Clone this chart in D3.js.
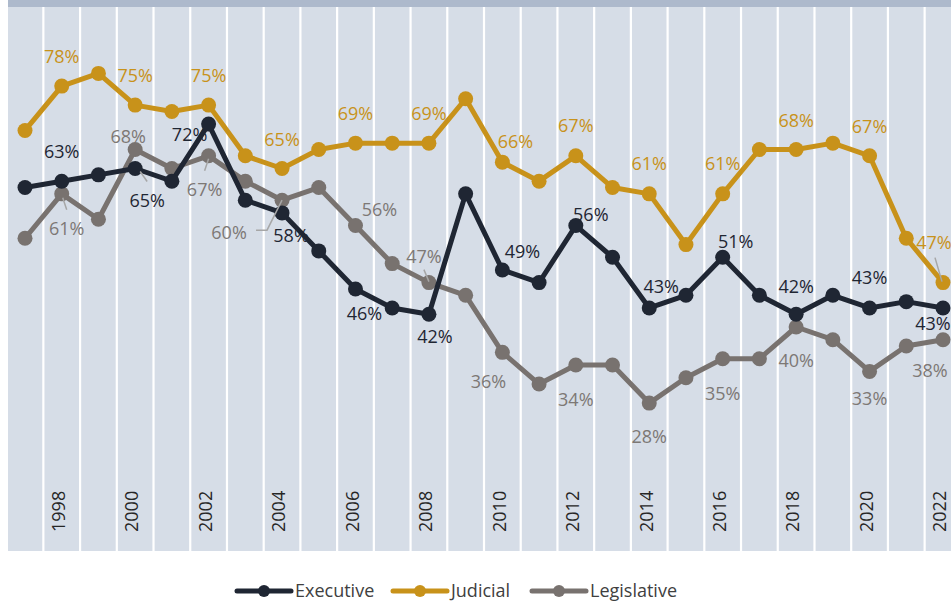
<!DOCTYPE html>
<html>
<head>
<meta charset="utf-8">
<script src="https://cdn.jsdelivr.net/npm/d3@7"></script>
<style>
  html, body { margin: 0; padding: 0; background: #ffffff; }
  svg { display: block; font-family: "Open Sans", "Noto Sans", sans-serif; }
</style>
</head>
<body>
<svg id="chart" width="951" height="601"></svg>
<script>
// ---- data ----
const years = [1997,1998,1999,2000,2001,2002,2003,2004,2005,2006,2007,2008,2009,2010,2011,2012,2013,2014,2015,2016,2017,2018,2019,2020,2021,2022];
const executive   = [62,63,64,65,63,72,60,58,52,46,43,42,61,49,47,56,51,43,45,51,45,42,45,43,44,43];
const judicial    = [71,78,80,75,74,75,67,65,68,69,69,69,76,66,63,67,62,61,53,61,68,68,69,67,54,47];
const legislative = [54,61,57,68,65,67,63,60,62,56,50,47,45,36,31,34,34,28,32,35,35,40,38,33,37,38];
const seriesNames = ["Executive","Judicial","Legislative"];
const tickYears   = [1998,2000,2002,2004,2006,2008,2010,2012,2014,2016,2018,2020,2022];

// ---- styles / layout ----
const colors = { Executive: "#1f2633", Judicial: "#c8921a", Legislative: "#78726f" };
const labelColors = { Executive: "#1f2633", Judicial: "#c8921a", Legislative: "#7d7875" };
// label offsets (dx, dy) of label centre from its point, per labelled year
const labelOffsets = {
  Executive:   {1998:[0,-29],2000:[12,32],2002:[-19,11],2004:[9,23],2006:[9,25],2008:[6,22],2010:[20,-18],2012:[15,-11],2014:[12,-21],2016:[13,-16],2018:[0,-28],2020:[0,-30],2022:[-10,16]},
  Judicial:    {1998:[0,-29],2000:[0,-29],2002:[0,-29],2004:[0,-29],2006:[0,-29],2008:[0,-29],2010:[13,-20],2012:[0,-30],2014:[0,-30],2016:[0,-30],2018:[0,-29],2020:[0,-29],2022:[-9,-40]},
  Legislative: {1998:[5,35],2000:[-7,-13],2002:[-4,34],2004:[-53,32],2006:[24,-16],2008:[-5,-26],2010:[-14,29],2012:[0,35],2014:[0,34],2016:[0,35],2018:[0,34],2020:[0,27],2022:[-13,31]}
};
const leaders = [
  {s:"Executive", year:2000, pts:[[5,3],[12,13]]},
  {s:"Legislative", year:1998, pts:[[1,4],[5,16]]},
  {s:"Legislative", year:2002, pts:[[0,3],[-4,15]]},
  {s:"Legislative", year:2004, pts:[[0,0],[-15,30],[-26,30]]},
  {s:"Legislative", year:2008, pts:[[-5,-13],[0,-1]]},
  {s:"Judicial", year:2022, pts:[[-8,-25],[-1,-1]]}
];

const svg = d3.select("#chart");
const plot = { left: 8, right: 951, top: 7, bottom: 551 };

const x = d3.scaleLinear().domain([1997, 2022]).range([25, 943]);
const y = d3.scaleLinear().domain([0, 90]).range([580.6, 10]);

const dataBy = { Executive: executive, Judicial: judicial, Legislative: legislative };

svg.append("defs").append("clipPath").attr("id","clip")
  .append("rect").attr("x", plot.left).attr("y", 0).attr("width", plot.right - plot.left).attr("height", plot.bottom);

// top band
svg.append("rect").attr("x", plot.left).attr("y", 0).attr("width", plot.right - plot.left).attr("height", plot.top).attr("fill", "#adb9cc");
// plot background
svg.append("rect").attr("x", plot.left).attr("y", plot.top).attr("width", plot.right - plot.left).attr("height", plot.bottom - plot.top).attr("fill", "#d6dde7");

// white column separators
const g = svg.append("g").attr("clip-path", "url(#clip)");
const bounds = years.map(d => d + 0.5);
g.selectAll("line.sep").data(bounds).join("line")
  .attr("class","sep")
  .attr("x1", d => x(d)).attr("x2", d => x(d))
  .attr("y1", plot.top).attr("y2", plot.bottom)
  .attr("stroke", "#ffffff").attr("stroke-width", 2.2);

// year labels
g.selectAll("text.yr").data(tickYears).join("text")
  .attr("class","yr")
  .attr("transform", d => `translate(${x(d) - 3},532) rotate(-90)`)
  .attr("dy", "0.35em")
  .attr("text-anchor", "start")
  .attr("font-size", 18)
  .attr("fill", "#262626")
  .text(d => d);

// lines and points (Legislative bottom, Executive top)
const drawOrder = ["Legislative","Judicial","Executive"];
const line = d3.line().x((d,i) => x(years[i])).y(d => y(d));
drawOrder.forEach(s => {
  const vals = dataBy[s];
  g.append("path").datum(vals)
    .attr("d", line).attr("fill","none")
    .attr("stroke", colors[s]).attr("stroke-width", 5).attr("stroke-linejoin","round");
  g.selectAll("circle." + s).data(vals).join("circle")
    .attr("class", s)
    .attr("cx", (d,i) => x(years[i])).attr("cy", d => y(d)).attr("r", 7.5)
    .attr("fill", colors[s]);
});

// leader lines
leaders.forEach(l => {
  const i = years.indexOf(l.year);
  const px = x(l.year), py = y(dataBy[l.s][i]);
  g.append("path")
    .attr("d", d3.line()(l.pts.map(p => [px + p[0], py + p[1]])))
    .attr("fill","none").attr("stroke","#a6a6a6").attr("stroke-width",1.5);
});

// data labels
["Legislative","Judicial","Executive"].forEach(s => {
  const vals = dataBy[s];
  const lab = tickYears.map(yr => ({yr, v: vals[years.indexOf(yr)], off: labelOffsets[s][yr]}));
  g.selectAll("text.lab" + s).data(lab).join("text")
    .attr("class","lab" + s)
    .attr("x", d => x(d.yr) + d.off[0])
    .attr("y", d => y(d.v) + d.off[1])
    .attr("dy","0.35em")
    .attr("text-anchor","middle")
    .attr("font-size", 18)
    .attr("fill", labelColors[s])
    .text(d => d.v + "%");
});

// legend
const legendItems = [
  {name: "Executive", lx: 237},
  {name: "Judicial", lx: 393},
  {name: "Legislative", lx: 532}
];
const lg = svg.append("g");
legendItems.forEach(it => {
  const ly = 591;
  lg.append("line").attr("x1", it.lx).attr("x2", it.lx + 54).attr("y1", ly).attr("y2", ly)
    .attr("stroke", colors[it.name]).attr("stroke-width", 5).attr("stroke-linecap","round");
  lg.append("circle").attr("cx", it.lx + 27).attr("cy", ly).attr("r", 6).attr("fill", colors[it.name]);
  lg.append("text").attr("x", it.lx + 58).attr("y", ly).attr("dy","0.35em")
    .attr("font-size", 18).attr("fill", "#404040").text(it.name);
});
</script>
</body>
</html>
